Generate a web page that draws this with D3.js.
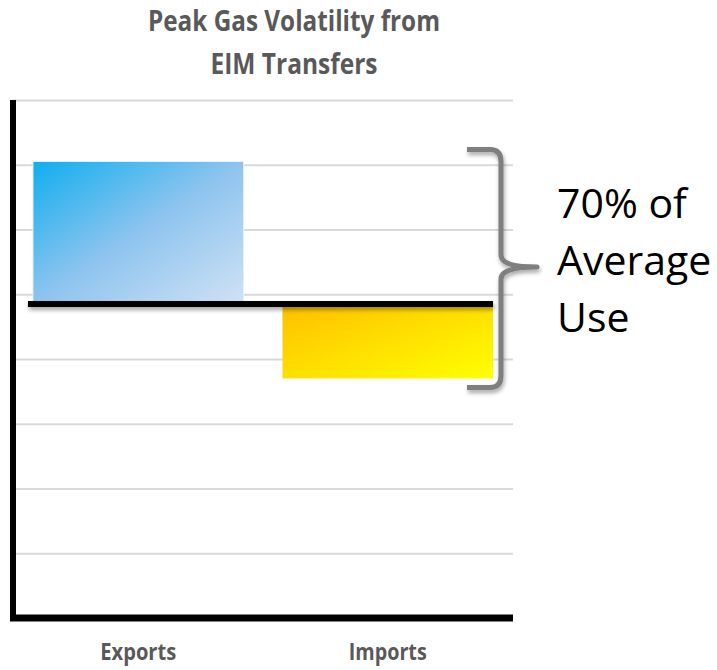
<!DOCTYPE html>
<html>
<head>
<meta charset="utf-8">
<script src="https://cdn.jsdelivr.net/npm/d3@7"></script>
<style>
  body { margin: 0; background: #fff; }
  svg { display: block; }
</style>
</head>
<body>
<div id="chart"></div>
<script>
// data (units = gridline steps)
var categories = ['Exports', 'Imports'];
var values = [7.05, 3.7];
var baseline = 4.85;
var gridTicks = [0, 1, 2, 3, 4, 5, 6, 7, 8];
var titleLines = ['Peak Gas Volatility from', 'EIM Transfers'];
var noteLines = ['70% of', 'Average', 'Use'];

var width = 717,
    height = 670,
    margin = { left: 13, right: 204, top: 100, bottom: 52 };

var chartWidth = width - margin.left - margin.right;
var chartHeight = height - margin.top - margin.bottom;

var svg = d3.select('#chart').append('svg')
    .attr('width', width)
    .attr('height', height);

var defs = svg.append('defs');

var blue = defs.append('linearGradient').attr('id', 'gBlue')
    .attr('x1', 0).attr('y1', 0).attr('x2', 1).attr('y2', 1);
blue.append('stop').attr('offset', '0%').attr('stop-color', '#10aeef');
blue.append('stop').attr('offset', '50%').attr('stop-color', '#8ec4ef');
blue.append('stop').attr('offset', '100%').attr('stop-color', '#d0e2f4');

var yellow = defs.append('linearGradient').attr('id', 'gYellow')
    .attr('x1', 0).attr('y1', 0).attr('x2', 1).attr('y2', 1);
yellow.append('stop').attr('offset', '0%').attr('stop-color', '#ffbf00');
yellow.append('stop').attr('offset', '100%').attr('stop-color', '#ffff00');

// shadow filter in user space so flat lines keep a region
var shadow = defs.append('filter').attr('id', 'shadow')
    .attr('filterUnits', 'userSpaceOnUse')
    .attr('x', 0).attr('y', 0).attr('width', width).attr('height', height);
shadow.append('feDropShadow')
    .attr('dx', 1).attr('dy', 3).attr('stdDeviation', 2)
    .attr('flood-color', '#000').attr('flood-opacity', 0.35);

var xScale = d3.scaleBand()
    .domain(categories)
    .range([0, chartWidth])
    .paddingInner(0.156)
    .paddingOuter(0.08);

var yScale = d3.scaleLinear()
    .domain([0, 8])
    .range([chartHeight, 0]);

var g = svg.append('g')
    .attr('transform', 'translate(' + margin.left + ',' + margin.top + ')');

// gridlines
var grid = d3.axisLeft(yScale)
    .tickValues(gridTicks)
    .tickSize(-chartWidth)
    .tickFormat('');

g.append('g')
    .attr('class', 'grid')
    .call(grid)
    .call(function(s) { s.select('.domain').remove(); })
    .selectAll('line')
    .attr('stroke', '#d9d9d9')
    .attr('stroke-width', 2);

// bars from the baseline
var colors = ['url(#gBlue)', 'url(#gYellow)'];
g.selectAll('rect.bar')
    .data(categories)
    .enter().append('rect')
    .attr('class', 'bar')
    .attr('x', function(d) { return xScale(d); })
    .attr('width', xScale.bandwidth())
    .attr('y', function(d, i) { return yScale(Math.max(values[i], baseline)); })
    .attr('height', function(d, i) { return Math.abs(yScale(values[i]) - yScale(baseline)); })
    .attr('fill', function(d, i) { return colors[i]; })
    .attr('stroke', function(d, i) { return i === 0 ? '#e4f0fb' : 'none'; })
    .attr('stroke-width', 1);

// baseline
g.append('line')
    .attr('x1', xScale(categories[0]) - 5)
    .attr('x2', xScale(categories[1]) + xScale.bandwidth())
    .attr('y1', yScale(baseline))
    .attr('y2', yScale(baseline))
    .attr('stroke', '#000')
    .attr('stroke-width', 6)
    .attr('filter', 'url(#shadow)');

// axes
g.append('line')
    .attr('x1', 0).attr('x2', 0)
    .attr('y1', 0).attr('y2', chartHeight + 3)
    .attr('stroke', '#000')
    .attr('stroke-width', 6);

g.append('line')
    .attr('x1', -3).attr('x2', chartWidth)
    .attr('y1', yScale(0)).attr('y2', yScale(0))
    .attr('stroke', '#000')
    .attr('stroke-width', 7);

// category labels
g.selectAll('text.cat')
    .data(categories)
    .enter().append('text')
    .attr('class', 'cat')
    .attr('x', function(d) { return xScale(d) + xScale.bandwidth() / 2; })
    .attr('y', chartHeight + 42)
    .attr('text-anchor', 'middle')
    .attr('font-family', 'Open Sans')
    .attr('font-weight', 'bold')
    .attr('font-size', 23)
    .attr('fill', '#595959')
    .attr('textLength', function(d) { return d === 'Exports' ? 76 : 78; })
    .attr('lengthAdjust', 'spacingAndGlyphs')
    .text(function(d) { return d; });

// title
svg.selectAll('text.title')
    .data(titleLines)
    .enter().append('text')
    .attr('class', 'title')
    .attr('x', 294)
    .attr('y', function(d, i) { return 31 + i * 43; })
    .attr('text-anchor', 'middle')
    .attr('font-family', 'Open Sans')
    .attr('font-weight', 'bold')
    .attr('font-size', 28)
    .attr('fill', '#595959')
    .attr('textLength', function(d, i) { return i === 0 ? 292 : 167; })
    .attr('lengthAdjust', 'spacingAndGlyphs')
    .text(function(d) { return d; });

// brace spanning the bars
var braceTop = margin.top + yScale(values[0]) - 12,
    braceBot = margin.top + yScale(values[1]) + 9,
    braceMid = 267,
    bx = 501;

var brace = 'M467,' + braceTop +
    ' L490,' + braceTop +
    ' Q' + bx + ',' + braceTop + ' ' + bx + ',' + (braceTop + 12) +
    ' L' + bx + ',' + (braceMid - 12) +
    ' Q' + bx + ',' + braceMid + ' 537,' + braceMid +
    ' Q' + bx + ',' + braceMid + ' ' + bx + ',' + (braceMid + 12) +
    ' L' + bx + ',' + (braceBot - 12) +
    ' Q' + bx + ',' + braceBot + ' 490,' + braceBot +
    ' L467,' + braceBot;

svg.append('path')
    .attr('d', brace)
    .attr('fill', 'none')
    .attr('stroke', '#7f7f7f')
    .attr('stroke-width', 5)
    .attr('stroke-linejoin', 'round')
    .attr('filter', 'url(#shadow)');

svg.selectAll('text.note')
    .data(noteLines)
    .enter().append('text')
    .attr('class', 'note')
    .attr('x', 557)
    .attr('y', function(d, i) { return 218 + i * 57; })
    .attr('font-family', 'Open Sans')
    .attr('font-size', 41)
    .attr('fill', '#000')
    .text(function(d) { return d; });
</script>
</body>
</html>
